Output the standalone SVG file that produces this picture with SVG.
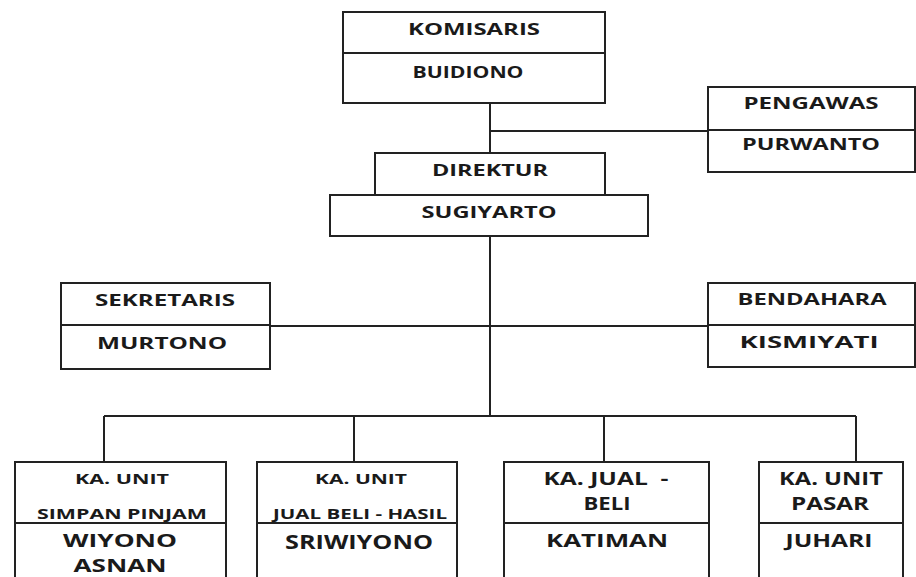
<svg xmlns="http://www.w3.org/2000/svg" width="916" height="577" viewBox="0 0 916 577">
<style>
.box{fill:#fff;stroke:#222;stroke-width:2}
.ln{stroke:#222;stroke-width:2;fill:none}
text{font-family:"Open Sans","Liberation Sans",sans-serif;font-weight:bold;fill:#1a1a1a;text-anchor:middle;dominant-baseline:central}
.t{font-size:16px}
.s{font-size:15px}
.m{font-size:18px}
.b{font-size:20px}
.w{font-size:18px}
</style>
<rect width="916" height="577" fill="#fff"/>
<g id="connectors">
<path class="ln" d="M490 103V153M490 131H708M490 236V416M270 326H708M104 416H856M104 416V462M354 416V462M604 416V462M856 416V462"/>
</g>
<g id="komisaris">
<rect class="box" x="343" y="12" width="262" height="91"/>
<path class="ln" d="M343 53H605"/>
<text class="t" x="474" y="29" textLength="132" lengthAdjust="spacingAndGlyphs">KOMISARIS</text>
<text class="t" x="468" y="72" textLength="111" lengthAdjust="spacingAndGlyphs">BUIDIONO</text>
</g>
<g id="pengawas">
<rect class="box" x="708" y="87" width="207" height="85"/>
<path class="ln" d="M708 130H915"/>
<text class="t" x="811" y="103" textLength="135" lengthAdjust="spacingAndGlyphs">PENGAWAS</text>
<text class="t" x="811" y="144" textLength="138" lengthAdjust="spacingAndGlyphs">PURWANTO</text>
</g>
<g id="direktur">
<rect class="box" x="375" y="153" width="230" height="42"/>
<text class="t" x="490" y="170" textLength="116" lengthAdjust="spacingAndGlyphs">DIREKTUR</text>
</g>
<g id="sugiyarto">
<rect class="box" x="330" y="195" width="318" height="41"/>
<text class="t" x="489" y="212" textLength="135" lengthAdjust="spacingAndGlyphs">SUGIYARTO</text>
</g>
<g id="sekretaris">
<rect class="box" x="61" y="283" width="209" height="86"/>
<path class="ln" d="M61 325H270"/>
<text class="t" x="165" y="300" textLength="140" lengthAdjust="spacingAndGlyphs">SEKRETARIS</text>
<text class="t" x="162" y="343" textLength="130" lengthAdjust="spacingAndGlyphs">MURTONO</text>
</g>
<g id="bendahara">
<rect class="box" x="708" y="283" width="207" height="84"/>
<path class="ln" d="M708 325H915"/>
<text class="t" x="812" y="299" textLength="149" lengthAdjust="spacingAndGlyphs">BENDAHARA</text>
<text class="t" x="809" y="342" textLength="139" lengthAdjust="spacingAndGlyphs">KISMIYATI</text>
</g>
<g id="unit-simpan-pinjam">
<rect class="box" x="15" y="462" width="211" height="130"/>
<path class="ln" d="M15 523H226"/>
<text class="s" x="122" y="478" textLength="94" lengthAdjust="spacingAndGlyphs">KA. UNIT</text>
<text class="s" x="122" y="513" textLength="170" lengthAdjust="spacingAndGlyphs">SIMPAN PINJAM</text>
<text class="w" x="120" y="540" textLength="114" lengthAdjust="spacingAndGlyphs">WIYONO</text>
<text class="w" x="120" y="565" textLength="93" lengthAdjust="spacingAndGlyphs">ASNAN</text>
</g>
<g id="unit-jual-beli-hasil">
<rect class="box" x="257" y="462" width="200" height="130"/>
<path class="ln" d="M257 523H457"/>
<text class="s" x="361" y="478" textLength="92" lengthAdjust="spacingAndGlyphs">KA. UNIT</text>
<text class="s" x="360" y="513" textLength="174" lengthAdjust="spacingAndGlyphs">JUAL BELI - HASIL</text>
<text class="b" x="359" y="541" textLength="148" lengthAdjust="spacingAndGlyphs">SRIWIYONO</text>
</g>
<g id="jual-beli">
<rect class="box" x="504" y="462" width="205" height="130"/>
<path class="ln" d="M504 523H709"/>
<text class="m" x="606" y="478" textLength="125" lengthAdjust="spacingAndGlyphs" xml:space="preserve">KA. JUAL  -</text>
<text class="m" x="607" y="503" textLength="47" lengthAdjust="spacingAndGlyphs">BELI</text>
<text class="m" x="607" y="540" textLength="122" lengthAdjust="spacingAndGlyphs">KATIMAN</text>
</g>
<g id="unit-pasar">
<rect class="box" x="759" y="462" width="144" height="130"/>
<path class="ln" d="M759 523H903"/>
<text class="m" x="831" y="478" textLength="104" lengthAdjust="spacingAndGlyphs">KA. UNIT</text>
<text class="m" x="830" y="503" textLength="78" lengthAdjust="spacingAndGlyphs">PASAR</text>
<text class="m" x="829" y="540" textLength="87" lengthAdjust="spacingAndGlyphs">JUHARI</text>
</g>
</svg>
